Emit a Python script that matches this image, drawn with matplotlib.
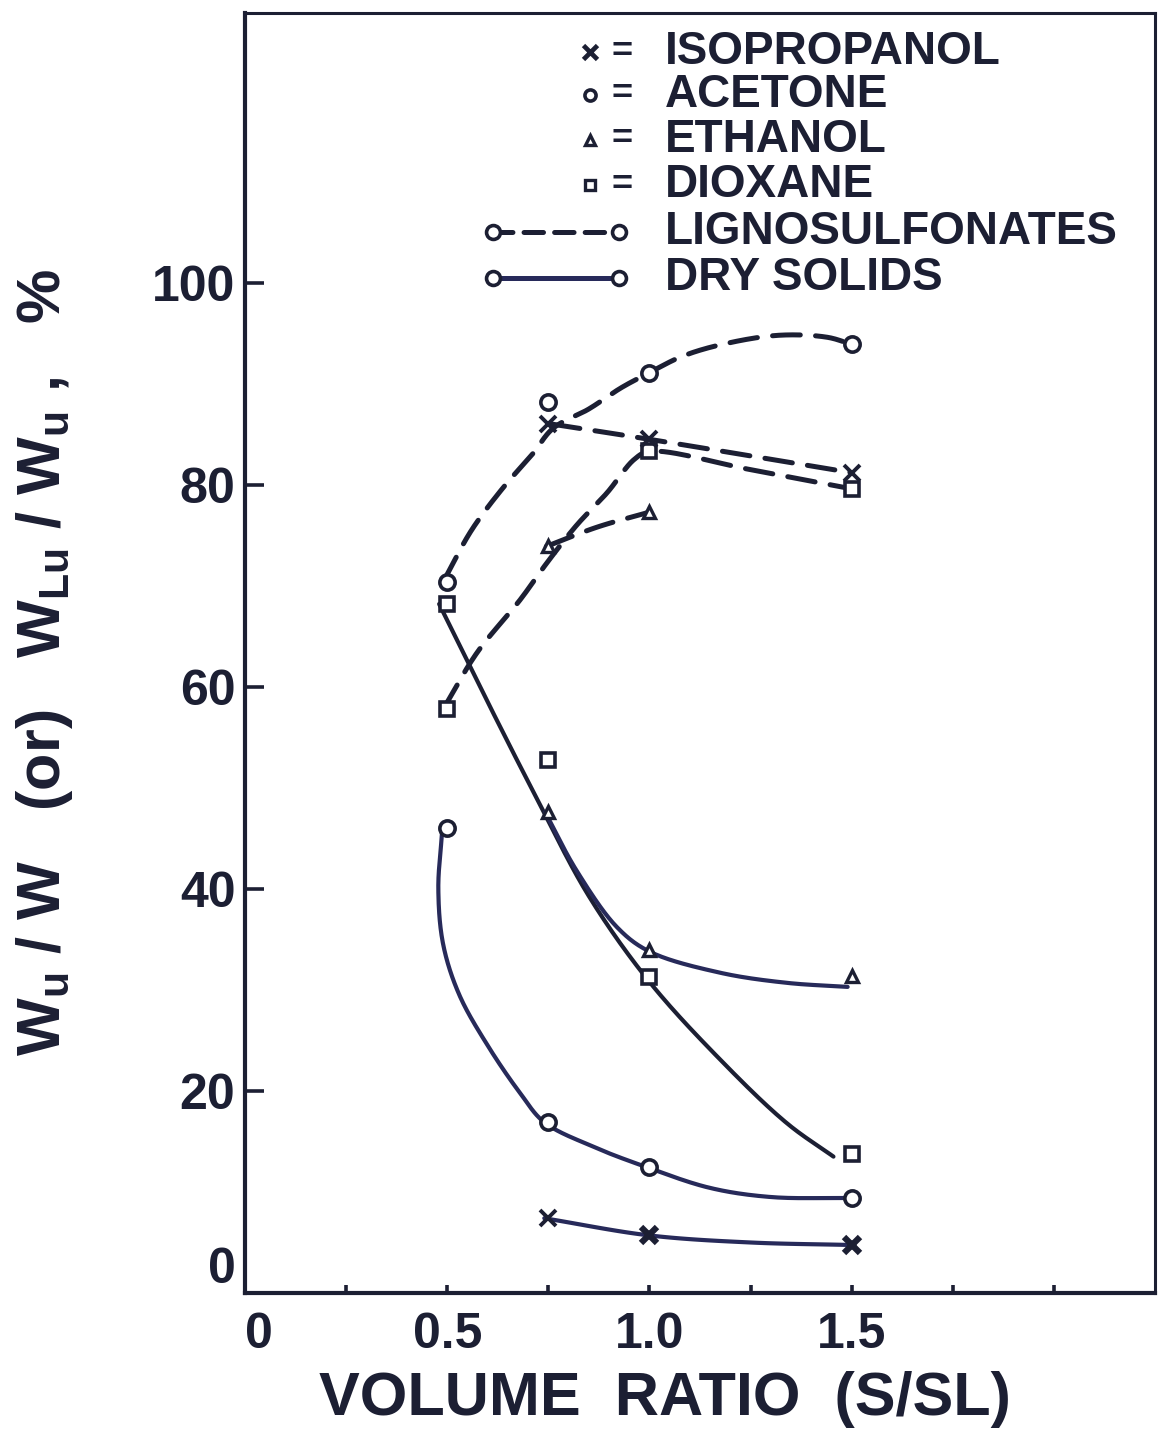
import numpy as np
import matplotlib
matplotlib.use("Agg")
import matplotlib.pyplot as plt
from matplotlib.lines import Line2D

# ---------------- data ----------------
# marker positions: lignosulfonates (dashed family)
iso_ls_x = [0.75, 1.0, 1.5]
iso_ls_y = [86.0, 84.5, 81.2]
ace_ls_x = [0.5, 0.75, 1.0, 1.5]
ace_ls_y = [70.4, 88.2, 91.1, 93.9]
eth_ls_x = [0.75, 1.0]
eth_ls_y = [73.9, 77.3]
dio_ls_x = [0.5, 1.0, 1.5]
dio_ls_y = [57.8, 83.3, 79.6]

# marker positions: dry solids (solid family)
iso_ds_x = [0.75, 1.0, 1.5]
iso_ds_y = [7.4, 5.7, 4.75]
ace_ds_x = [0.5, 0.75, 1.0, 1.5]
ace_ds_y = [46.0, 16.9, 12.5, 9.4]
eth_ds_x = [0.75, 1.0, 1.5]
eth_ds_y = [47.6, 34.0, 31.4]
dio_ds_x = [0.5, 0.75, 1.0, 1.5]
dio_ds_y = [68.2, 52.8, 31.3, 13.8]

# hand-drawn fitted curves
ace_ls_cx = [0.49, 0.56, 0.64, 0.71, 0.762, 0.85, 0.93, 1.0, 1.08, 1.18, 1.32, 1.44, 1.5]
ace_ls_cy = [70.4, 75.5, 79.8, 83.0, 85.6, 87.5, 89.6, 91.1, 92.7, 93.9, 94.8, 94.6, 93.9]
iso_ls_cx = [0.76, 1.0, 1.5]
iso_ls_cy = [86.0, 84.5, 81.2]
dio_ls_cx = [0.49, 0.574, 0.68, 0.747, 0.82, 0.895, 0.962, 1.0, 1.25, 1.5]
dio_ls_cy = [57.8, 63.4, 68.6, 72.3, 76.0, 79.2, 82.5, 83.3, 81.5, 79.6]
eth_ls_cx = [0.745, 0.87, 1.0]
eth_ls_cy = [73.9, 75.8, 77.3]

ace_ds_cx = [0.487, 0.478, 0.49, 0.53, 0.60, 0.68, 0.74, 0.86, 0.99, 1.15, 1.30, 1.49]
ace_ds_cy = [45.5, 40.0, 34.5, 29.5, 24.5, 19.8, 16.9, 14.5, 12.5, 10.4, 9.5, 9.4]
dio_ds_cx = [0.48, 0.60, 0.717, 0.85, 1.0, 1.175, 1.34, 1.455]
dio_ds_cy = [68.2, 58.5, 49.3, 39.3, 30.8, 23.1, 16.8, 13.5]
eth_ds_cx = [0.742, 0.82, 0.92, 1.0, 1.175, 1.34, 1.49]
eth_ds_cy = [47.6, 41.8, 36.2, 33.8, 31.7, 30.7, 30.3]
iso_ds_cx = [0.74, 1.0, 1.25, 1.5]
iso_ds_cy = [7.4, 5.7, 5.0, 4.75]

x_ticks = [0, 0.25, 0.5, 0.75, 1.0, 1.25, 1.5, 1.75, 2.0]
x_ticklabels = ["0", "", "0.5", "", "1.0", "", "1.5", "", ""]
y_ticks = [0, 20, 40, 60, 80, 100]
y_ticklabels = ["0", "20", "40", "60", "80", "100"]

legend_labels = ["ISOPROPANOL", "ACETONE", "ETHANOL", "DIOXANE", "LIGNOSULFONATES", "DRY SOLIDS"]
x_label = "VOLUME  RATIO  (S/SL)"
y_label = r"W$_\mathregular{u}$ / W   (or)   W$_\mathregular{Lu}$ / W$_\mathregular{u}$ ,   %"

# ---------------- style ----------------
INK = "#1c1f33"
BLUE = "#272a5a"
FONT = ["Liberation Sans", "DejaVu Sans"]
plt.rcParams["font.family"] = FONT
plt.rcParams["font.weight"] = "bold"
plt.rcParams["lines.scale_dashes"] = False
plt.rcParams["mathtext.fontset"] = "custom"
plt.rcParams["mathtext.rm"] = "Liberation Sans:bold"
plt.rcParams["mathtext.it"] = "Liberation Sans:bold"
plt.rcParams["mathtext.bf"] = "Liberation Sans:bold"


def smooth(xs, ys, n=30, sx=40.0):
    """Centripetal Catmull-Rom rendering of a traced curve (pixel-like space)."""
    P = np.column_stack([np.asarray(xs, float) * sx, np.asarray(ys, float)])
    if len(P) < 3:
        return P[:, 0] / sx, P[:, 1]
    P = np.vstack([2 * P[0] - P[1], P, 2 * P[-1] - P[-2]])
    out = []
    for i in range(1, len(P) - 2):
        p0, p1, p2, p3 = P[i - 1], P[i], P[i + 1], P[i + 2]
        def tj(ti, a, b):
            return ti + max(np.hypot(*(b - a)), 1e-6) ** 0.5
        t0 = 0.0
        t1 = tj(t0, p0, p1)
        t2 = tj(t1, p1, p2)
        t3 = tj(t2, p2, p3)
        t = np.linspace(t1, t2, n, endpoint=False)[:, None]
        A1 = (t1 - t) / (t1 - t0) * p0 + (t - t0) / (t1 - t0) * p1
        A2 = (t2 - t) / (t2 - t1) * p1 + (t - t1) / (t2 - t1) * p2
        A3 = (t3 - t) / (t3 - t2) * p2 + (t - t2) / (t3 - t2) * p3
        B1 = (t2 - t) / (t2 - t0) * A1 + (t - t0) / (t2 - t0) * A2
        B2 = (t3 - t) / (t3 - t1) * A2 + (t - t1) / (t3 - t1) * A3
        C = (t2 - t) / (t2 - t1) * B1 + (t - t1) / (t2 - t1) * B2
        out.append(C)
    out.append(P[-2][None, :])
    Q = np.vstack(out)
    return Q[:, 0] / sx, Q[:, 1]


fig = plt.figure(figsize=(11.6, 14.3), dpi=100)
ax = fig.add_axes([245 / 1160, 1 - 1293 / 1430, 910 / 1160, 1280 / 1430])
ax.set_xlim(0, 2.25)
ax.set_ylim(0, 126.7)

dash_kw = dict(color=INK, lw=3.6, dashes=(20, 11), dash_capstyle="round", solid_capstyle="round")
solid_kw = dict(lw=3.0, solid_capstyle="round")

# dashed (lignosulfonates) curves
for cx, cy in [(ace_ls_cx, ace_ls_cy), (iso_ls_cx, iso_ls_cy), (dio_ls_cx, dio_ls_cy), (eth_ls_cx, eth_ls_cy)]:
    sx_, sy_ = smooth(cx, cy)
    ax.plot(sx_, sy_, **dash_kw, zorder=2)

# solid (dry solids) curves
for cx, cy, col in [(ace_ds_cx, ace_ds_cy, BLUE), (dio_ds_cx, dio_ds_cy, INK),
                    (eth_ds_cx, eth_ds_cy, BLUE), (iso_ds_cx, iso_ds_cy, BLUE)]:
    sx_, sy_ = smooth(cx, cy)
    ax.plot(sx_, sy_, color=col, **solid_kw, zorder=2)

mk = dict(color=INK, ls="none", mfc="white", mec=INK, zorder=4)
# circles
ax.plot(ace_ls_x, ace_ls_y, marker="o", ms=11, mew=2.6, **mk)
ax.plot(ace_ds_x, ace_ds_y, marker="o", ms=11, mew=2.6, **mk)
# triangles
ax.plot(eth_ls_x, eth_ls_y, marker="^", ms=9, mew=2.4, **mk)
ax.plot(eth_ds_x, eth_ds_y, marker="^", ms=9, mew=2.4, **mk)
# squares
ax.plot(dio_ls_x, dio_ls_y, marker="s", ms=9.5, mew=2.6, **mk)
ax.plot(dio_ds_x, dio_ds_y, marker="s", ms=9.5, mew=2.6, **mk)
# crosses
ax.plot(iso_ls_x, iso_ls_y, marker="x", ms=11, mew=2.8, **mk)
ax.plot(iso_ds_x[:1], iso_ds_y[:1], marker="x", ms=11, mew=2.8, **mk)
ax.plot(iso_ds_x[1:], iso_ds_y[1:], marker="x", ms=12, mew=4.5, **mk)

# ---------------- axes styling ----------------
for side in ["left", "bottom"]:
    ax.spines[side].set_linewidth(3.0)
for side in ["top", "right"]:
    ax.spines[side].set_linewidth(2.2)
for s in ax.spines.values():
    s.set_color(INK)

ax.set_xticks(x_ticks)
ax.set_xticklabels(x_ticklabels)
ax.set_yticks(y_ticks)
ax.set_yticklabels(y_ticklabels)
ax.tick_params(axis="y", direction="in", length=14, width=2.6, color=INK, pad=7,
               labelsize=36, labelcolor=INK)
ax.tick_params(axis="x", direction="in", length=6, width=2.6, color=INK, pad=14,
               labelsize=36, labelcolor=INK)
for lab in ax.get_xticklabels() + ax.get_yticklabels():
    lab.set_fontweight("bold")
ax.get_xticklabels()[0].set_horizontalalignment("left")
ax.get_yticklabels()[0].set_verticalalignment("bottom")

ax.set_xlabel(x_label, fontsize=44, fontweight="bold", color=INK)
ax.xaxis.set_label_coords(0.4615, -0.061)
ax.text(-0.22, 0.493, y_label, transform=ax.transAxes, rotation=90, ha="center", va="center",
        fontsize=44, fontweight="bold", color=INK)

# ---------------- legend (drawn by hand, as in the figure) ----------------
rows = [0.9695, 0.936, 0.9008, 0.8656, 0.8289, 0.793]
sym_x, eq_x, txt_x = 0.379, 0.414, 0.4615
T = ax.transAxes
ax.plot([sym_x], [rows[0]], marker="x", ms=10, mew=3.4, color=INK, transform=T, clip_on=False)
ax.plot([sym_x], [rows[1]], marker="o", ms=8, mew=2.6, mfc="white", mec=INK, transform=T, clip_on=False)
ax.plot([sym_x], [rows[2]], marker="^", ms=7, mew=2.4, mfc="white", mec=INK, transform=T, clip_on=False)
ax.plot([sym_x], [rows[3]], marker="s", ms=7, mew=2.4, mfc="white", mec=INK, transform=T, clip_on=False)
for r in rows[:4]:
    ax.text(eq_x, r, "=", transform=T, ha="center", va="center", fontsize=26, fontweight="bold", color=INK)
for r, lab in zip(rows, legend_labels):
    ax.text(txt_x, r, lab, transform=T, ha="left", va="center", fontsize=33, fontweight="bold",
            color=INK, clip_on=False)
ax.add_line(Line2D([0.272, 0.411], [rows[4], rows[4]], transform=T, color=INK, lw=3.6,
                   dashes=(14, 8), dash_capstyle="round"))
ax.add_line(Line2D([0.272, 0.411], [rows[5], rows[5]], transform=T, color=BLUE, lw=3.6))
for r in rows[4:]:
    ax.plot([0.272, 0.411], [r, r], ls="none", marker="o", ms=10, mew=2.6, mfc="white", mec=INK,
            transform=T, clip_on=False, zorder=5)

fig.savefig("out.png", dpi=100)
